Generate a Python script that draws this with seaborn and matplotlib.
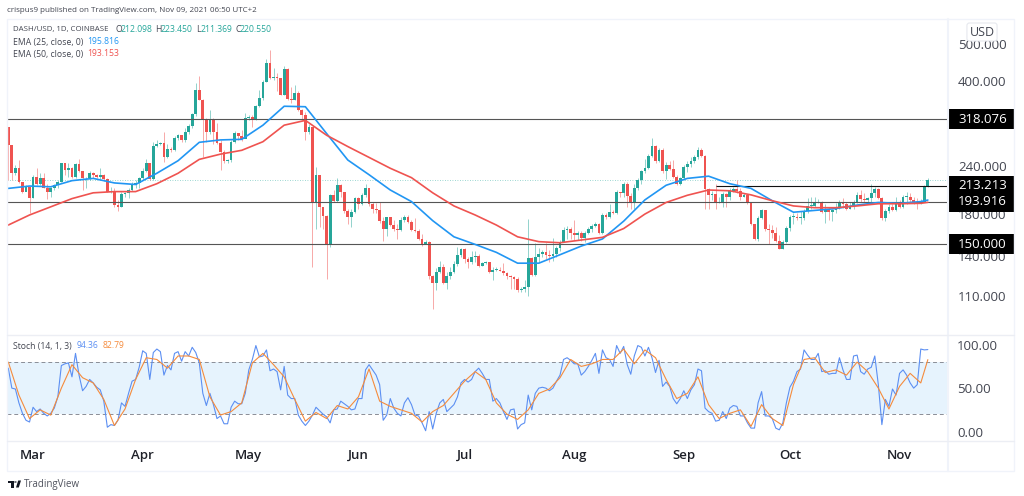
import numpy as np
import pandas as pd
import seaborn as sns
import matplotlib
matplotlib.use("Agg")
import matplotlib.pyplot as plt
from matplotlib.lines import Line2D
from matplotlib.patches import Polygon, Rectangle, Circle
from matplotlib.transforms import blended_transform_factory

# daily candles
first_open = 303
closes = [
    272, 231, 238, 218, 206, 212, 198, 225, 215, 223,
    211, 206, 210, 214, 218, 244, 234, 237, 225, 243,
    233, 223, 224, 230, 227, 225, 227, 222, 206, 207,
    190, 188, 203, 204, 208, 214, 217, 223, 233, 244,
    222, 271, 275, 276, 253, 266, 264, 284, 289, 281,
    295, 306, 329, 380, 358, 317, 294, 317, 295, 276,
    261, 248, 249, 278, 293, 288, 282, 320, 322, 317,
    344, 362, 399, 445, 407, 411, 408, 369, 430, 359,
    358, 372, 336, 326, 295, 304, 192, 228, 188, 178,
    150, 202, 195, 214, 206, 183, 177, 182, 198, 191,
    202, 210, 191, 185, 184, 173, 165, 177, 169, 165,
    164, 174, 177, 172, 164, 163, 155, 150, 152, 124,
    119, 127, 131, 119, 124, 127, 133, 141, 146, 137,
    135, 139, 140, 132, 134, 135, 127, 129, 129, 128,
    126, 124, 123, 122, 114, 115, 116, 138, 125, 139,
    142, 143, 141, 140, 142, 147, 152, 164, 165, 161,
    159, 161, 156, 161, 165, 168, 170, 161, 179, 177,
    182, 181, 205, 204, 216, 201, 193, 210, 221, 233,
    237, 255, 271, 248, 264, 233, 242, 236, 225, 216,
    223, 239, 243, 248, 253, 265, 255, 209, 202, 203,
    192, 194, 203, 199, 207, 209, 207, 200, 202, 192,
    170, 155, 176, 184, 165, 164, 161, 153, 146, 152,
    166, 177, 177, 176, 176, 183, 189, 189, 193, 194,
    182, 185, 182, 184, 187, 194, 191, 186, 189, 194,
    202, 197, 196, 198, 204, 209, 198, 176, 183, 188,
    184, 191, 188, 200, 200, 196, 194, 192, 194, 212,
    220.55,
]
highs = [
    303, 272, 241, 249, 218, 214, 212, 228, 237, 230,
    230, 215, 212, 216, 221, 245, 245, 244, 239, 244,
    250, 233, 225, 233, 232, 229, 237, 229, 223, 212,
    210, 196, 205, 206, 210, 218, 221, 225, 237, 250,
    244, 278, 281, 278, 295, 275, 270, 287, 292, 290,
    301, 310, 330, 395, 413, 360, 320, 336, 320, 311,
    281, 264, 250, 281, 296, 292, 298, 330, 327, 327,
    346, 379, 403, 456, 482, 432, 419, 408, 438, 432,
    387, 391, 377, 338, 333, 310, 304, 239, 228, 188,
    179, 203, 208, 223, 216, 206, 185, 185, 200, 200,
    204, 216, 210, 194, 192, 194, 177, 177, 177, 174,
    170, 177, 179, 179, 174, 176, 165, 160, 154, 153,
    125, 130, 136, 133, 127, 131, 136, 148, 147, 147,
    139, 144, 144, 142, 135, 136, 135, 131, 131, 131,
    134, 127, 125, 124, 123, 116, 121, 175, 139, 151,
    147, 145, 151, 145, 156, 149, 154, 167, 168, 167,
    174, 163, 163, 163, 167, 170, 172, 171, 181, 181,
    191, 184, 208, 206, 218, 218, 204, 216, 223, 235,
    250, 258, 285, 273, 267, 267, 246, 248, 249, 227,
    225, 241, 247, 253, 257, 270, 267, 256, 210, 207,
    215, 200, 205, 204, 210, 212, 221, 210, 204, 202,
    193, 170, 178, 186, 184, 170, 169, 167, 159, 154,
    168, 179, 181, 181, 183, 186, 198, 199, 199, 197,
    195, 191, 188, 186, 192, 196, 198, 194, 193, 196,
    206, 208, 204, 200, 215, 212, 210, 200, 185, 191,
    191, 200, 196, 202, 205, 204, 200, 198, 197, 214,
    223.45,
]
lows = [
    221, 221, 228, 217, 204, 207, 181, 198, 214, 214,
    210, 197, 200, 208, 210, 218, 227, 225, 223, 224,
    232, 208, 210, 221, 223, 223, 222, 220, 205, 204,
    188, 183, 188, 200, 198, 207, 210, 210, 221, 232,
    221, 221, 270, 272, 246, 252, 261, 263, 281, 278,
    278, 292, 302, 325, 357, 254, 278, 292, 275, 275,
    235, 244, 245, 246, 276, 281, 279, 286, 317, 304,
    317, 342, 357, 399, 405, 403, 377, 367, 367, 357,
    350, 357, 335, 317, 281, 292, 131, 165, 167, 165,
    122, 148, 194, 194, 200, 181, 170, 167, 181, 186,
    190, 200, 189, 181, 181, 171, 153, 158, 168, 163,
    155, 163, 172, 171, 163, 162, 154, 149, 150, 122,
    102, 114, 126, 118, 115, 122, 126, 132, 139, 134,
    130, 133, 135, 131, 132, 133, 126, 121, 128, 128,
    125, 122, 115, 115, 113, 113, 113, 110, 124, 124,
    135, 139, 137, 135, 136, 139, 144, 153, 155, 155,
    154, 154, 153, 152, 160, 162, 167, 160, 160, 175,
    176, 180, 180, 200, 200, 188, 186, 186, 208, 216,
    231, 236, 254, 244, 246, 230, 222, 234, 223, 214,
    214, 221, 232, 239, 244, 251, 254, 186, 186, 196,
    186, 192, 188, 188, 196, 206, 204, 196, 200, 191,
    169, 154, 153, 175, 163, 150, 156, 152, 146, 146,
    151, 163, 170, 174, 170, 174, 181, 185, 188, 192,
    181, 171, 174, 173, 181, 185, 187, 184, 185, 186,
    192, 194, 193, 191, 194, 200, 197, 174, 173, 181,
    183, 183, 187, 187, 191, 193, 191, 186, 191, 193,
    211.37,
]

# moving averages, read every sixth day plus the last day
ema_days = [0, 6, 12, 18, 24, 30, 36, 42, 48, 54, 60, 66, 72, 78, 84, 90, 96, 102, 108, 114, 120, 126, 132,
            138, 144, 150, 156, 162, 168, 174, 180, 186, 192, 198, 204, 210, 216, 222, 228, 234, 240, 246,
            252, 258, 260]
ema25 = [
    210, 213, 212, 220, 223, 217, 215, 230, 248, 277,
    281, 282, 307, 344, 343, 292, 249, 228, 208, 194,
    173, 157, 150, 143, 134, 134, 141, 148.5, 155, 172.5,
    196, 214, 223, 226, 216, 210, 195, 182, 184, 186,
    190, 193, 192, 194, 195.816,
]
ema50 = [
    168.5, 179, 188, 197.5, 204.5, 206, 206, 216, 230, 250,
    258, 264, 278, 307, 316, 289, 270, 253, 237, 224,
    204.5, 189, 179, 168.5, 157, 152.5, 151.5, 154, 156.5, 165,
    180, 193, 201.5, 208, 207, 202, 195, 189, 187, 187,
    189, 191.5, 191.5, 192, 193.153,
]

# stochastic %K for every day
stoch_k = [
    73, 50, 49, 33, 21, 13, 11, 28, 23, 26,
    21, 18, 21, 27, 40, 76, 78, 79, 63, 90,
    65, 47, 52, 60, 56, 51, 48, 35, 5, 8,
    7, 13, 33, 29, 44, 58, 60, 74, 93, 90,
    60, 91, 95, 92, 65, 76, 71, 90, 92, 81,
    92, 87, 97, 91, 79, 44, 30, 44, 31, 15,
    18, 9, 9, 28, 35, 32, 32, 44, 71, 83,
    99, 86, 87, 94, 70, 72, 69, 48, 75, 42,
    38, 38, 19, 12, 7, 12, 19, 28, 24, 20,
    17, 10, 25, 26, 35, 32, 29, 25, 26, 38,
    38, 71, 77, 71, 65, 54, 13, 19, 38, 27,
    21, 18, 33, 39, 31, 19, 18, 10, 1, 23,
    3, 21, 33, 37, 23, 27, 31, 40, 56, 60,
    57, 60, 69, 73, 67, 60, 60, 35, 38, 33,
    23, 14, 25, 26, 3, 8, 10, 42, 25, 44,
    50, 51, 50, 47, 50, 58, 65, 83, 85, 82,
    78, 78, 65, 69, 75, 82, 90, 67, 94, 85,
    83, 75, 99, 90, 98, 77, 66, 87, 99, 97,
    87, 97, 85, 68, 82, 52, 57, 52, 38, 32,
    38, 47, 38, 48, 54, 72, 70, 27, 23, 21,
    12, 13, 23, 15, 27, 30, 29, 18, 18, 10,
    4, 4, 33, 46, 18, 18, 15, 4, 2, 10,
    33, 51, 58, 69, 72, 94, 88, 83, 83, 90,
    69, 70, 66, 67, 67, 85, 71, 60, 60, 87,
    88, 69, 66, 72, 74, 87, 54, 8, 37, 29,
    49, 42, 67, 71, 65, 56, 50, 54, 95, 94,
    94.36,
]

# stochastic %D, read every third day plus the last day
stoch_d_days = list(range(0, 259, 3)) + [260]
stoch_d = [
    80, 42, 15, 25, 19, 50, 77, 62, 56, 37,
    7, 26, 60, 85, 83, 73, 87, 87, 83, 40,
    19, 23, 33, 79, 90, 77, 63, 37, 12, 22,
    15, 30, 26, 40, 72, 35, 29, 25, 21, 11,
    23, 30, 44, 58, 69, 60, 33, 20, 14, 25,
    44, 49, 62, 83, 75, 78, 83, 83, 95, 78,
    94, 85, 60, 38, 44, 63, 31, 15, 21, 25,
    6, 31, 15, 7, 54, 83, 85, 68, 71, 65,
    80, 69, 50, 26, 52, 67, 56, 82.79,
]

price_ticks = [110, 140, 180, 240, 400, 500]
level_prices = [318.076, 193.916, 150.0]
short_level = 213.213
last_close = 220.55
stoch_ticks = [0, 50, 100]
month_starts = ["2021-03-01", "2021-04-01", "2021-05-01", "2021-06-01", "2021-07-01",
                "2021-08-01", "2021-09-01", "2021-10-01", "2021-11-01"]
month_labels = ["Mar", "Apr", "May", "Jun", "Jul", "Aug", "Sep", "Oct", "Nov"]

GREEN = "#26a69a"
RED = "#ef5350"
BLUE = "#2196f3"
K_BLUE = "#5c8ff2"
ORANGE = "#f58b3c"
PANE_LINE = "#eceef4"
TEXT = "#434651"
WIDTH, HEIGHT = 1024, 496

sns.set_theme(style="white")
plt.rcParams["font.family"] = ["Open Sans", "DejaVu Sans"]

dates = pd.date_range("2021-02-22", periods=len(closes), freq="D")
df = pd.DataFrame({"date": dates, "close": closes, "high": highs, "low": lows, "k": stoch_k})
df["open"] = [first_open] + closes[:-1]
df["up"] = df["close"] >= df["open"]
df["color"] = np.where(df["up"], GREEN, RED)
ema_df = pd.DataFrame({"date": dates[ema_days], "ema25": ema25, "ema50": ema50})
d_df = pd.DataFrame({"date": dates[stoch_d_days], "d": stoch_d})

fig = plt.figure(figsize=(WIDTH / 100, HEIGHT / 100), dpi=100, facecolor="white")


def pane(left, top, right, bottom):
    return fig.add_axes([left / WIDTH, 1 - bottom / HEIGHT, (right - left) / WIDTH, (bottom - top) / HEIGHT])


def label(x, y, s, color=TEXT, size=6.2, **kw):
    fig.text(x / WIDTH, 1 - y / HEIGHT, s, color=color, fontsize=size, va="center", **kw)


ax = pane(7, 19, 948, 334.7)
ax_st = pane(7, 334.7, 948, 440.7)
x_range = (dates[0] - pd.Timedelta(days=0.37), dates[0] + pd.Timedelta(days=265.7))

# candles
ax.vlines(df["date"], df["low"], df["high"], colors=df["color"], linewidth=0.7, alpha=0.5, zorder=2)
ax.bar(df["date"], (df["close"] - df["open"]).abs().clip(lower=0.6), bottom=df[["open", "close"]].min(axis=1),
       width=0.78, color=df["color"], linewidth=0, zorder=3)

sns.lineplot(data=ema_df, x="date", y="ema25", ax=ax, color=BLUE, linewidth=1.2, zorder=5, legend=False)
sns.lineplot(data=ema_df, x="date", y="ema50", ax=ax, color=RED, linewidth=1.2, zorder=5, legend=False)

ax.set_yscale("log")
ax.set_ylim(87.2, 581)
ax.set_xlim(*x_range)
ax.set_xlabel("")
ax.set_ylabel("")
ax.set_xticks([])
ax.yaxis.tick_right()
ax.set_yticks(price_ticks, labels=[f"{p:.3f}" for p in price_ticks])
ax.set_yticks([], minor=True)
ax.tick_params(axis="y", length=0, pad=7.2, labelsize=9.5, labelcolor=TEXT)

for level in level_prices:
    ax.axhline(level, color="#555555", linewidth=0.8, zorder=4)
ax.hlines(short_level, dates[200], x_range[1], color="#111111", linewidth=0.8, zorder=4)
ax.axhline(last_close, color=GREEN, linewidth=0.6, linestyle=(0, (1, 2)), alpha=0.6, zorder=1)

# price boxes on the scale
box_tf = blended_transform_factory(ax.transAxes, ax.transData)
for level in level_prices + [short_level]:
    lo, hi = level * np.exp(-10 / 166.3), level * np.exp(10 / 166.3)
    ax.add_patch(Rectangle((1.0, lo), 0.0701, hi - lo, transform=box_tf, facecolor="black", edgecolor="none",
                           clip_on=False, zorder=6))
    ax.text(1.0106, level, f"{level:.3f}", transform=box_tf, color="white", fontsize=9.5, fontweight="medium",
            va="center", ha="left", zorder=7, clip_on=False)

# stochastic pane
ax_st.axhspan(20, 80, color=BLUE, alpha=0.11, linewidth=0, zorder=1)
for guide in [20, 80]:
    ax_st.axhline(guide, color="#8a8d96", linewidth=0.7, linestyle=(0, (4, 3)), zorder=2)
sns.lineplot(data=df, x="date", y="k", ax=ax_st, color=K_BLUE, linewidth=0.8, zorder=3, legend=False)
sns.lineplot(data=d_df, x="date", y="d", ax=ax_st, color=ORANGE, linewidth=0.8, zorder=4, legend=False)
ax_st.set_ylim(-10.5, 111.5)
ax_st.set_xlim(*x_range)
ax_st.set_xlabel("")
ax_st.set_ylabel("")
ax_st.yaxis.tick_right()
ax_st.set_yticks(stoch_ticks, labels=[f"{t:.2f}" for t in stoch_ticks])
ax_st.tick_params(axis="y", length=0, pad=6.5, labelsize=9.5, labelcolor=TEXT)
ax_st.set_xticks(pd.to_datetime(month_starts), labels=month_labels)
ax_st.tick_params(axis="x", length=0, pad=6, labelsize=9.5, labelcolor="#1f2129")
for tick in ax_st.get_xticklabels():
    tick.set_fontweight("semibold")

for a in (ax, ax_st):
    a.set_facecolor("white")
    for spine in a.spines.values():
        spine.set_visible(False)

# pane frame
fig.add_artist(Rectangle((7 / WIDTH, 1 - 471 / HEIGHT), 1007 / WIDTH, 452 / HEIGHT, transform=fig.transFigure,
                         fill=False, edgecolor="#f0f3fa", linewidth=1))
fig.add_artist(Line2D([948 / WIDTH] * 2, [1 - 19 / HEIGHT, 1 - 471 / HEIGHT], color="#f0f3fa", linewidth=1.5))
for y in (334.7, 440.7):
    fig.add_artist(Line2D([7 / WIDTH, 1014 / WIDTH], [1 - y / HEIGHT] * 2, color=PANE_LINE, linewidth=1))

# header and legends
label(7, 11, "crispus9 published on TradingView.com, Nov 09, 2021 06:50 UTC+2", size=5.8)
label(13, 30, "DASH/USD, 1D, COINBASE", size=5.7)
for x, letter, val_x, val in [(115, "O", 121, "212.098"), (155, "H", 160.5, "223.450"),
                              (196.5, "L", 200.5, "211.369"), (235, "C", 240, "220.550")]:
    label(x, 30, letter)
    label(val_x, 30, val, color=GREEN)
label(13, 42, "EMA (25, close, 0)")
label(87, 42, "195.816", color=BLUE)
label(13, 54, "EMA (50, close, 0)")
label(87, 54, "193.153", color=RED)
label(13, 346, "Stoch (14, 1, 3)")
label(77, 346, "94.36", color=K_BLUE)
label(103, 346, "82.79", color=ORANGE)
fig.text(982 / WIDTH, 1 - 32 / HEIGHT, "USD", color=TEXT, fontsize=9, ha="center", va="center", zorder=8,
         bbox=dict(boxstyle="round,pad=0.2", facecolor="white", edgecolor="#e6e8ee", linewidth=0.8))

# TradingView mark
def px(x, y):
    return x / WIDTH, 1 - y / HEIGHT


fig.add_artist(Polygon([px(7.5, 480.5), px(13.5, 480.5), px(13.5, 487.5), px(10.5, 487.5), px(10.5, 483), px(7.5, 483)],
                       closed=True, transform=fig.transFigure, color="#131722", linewidth=0))
fig.add_artist(Polygon([px(16, 487.5), px(18.2, 480.5), px(21, 480.5), px(18.8, 487.5)],
                       closed=True, transform=fig.transFigure, color="#131722", linewidth=0))
fig.add_artist(Circle(px(15.4, 482), 1.3 / WIDTH, transform=fig.transFigure, color="#131722", linewidth=0))
label(24, 484, "TradingView", color="#50535e", size=7)

fig.savefig("out.png", dpi=100, facecolor="white")
